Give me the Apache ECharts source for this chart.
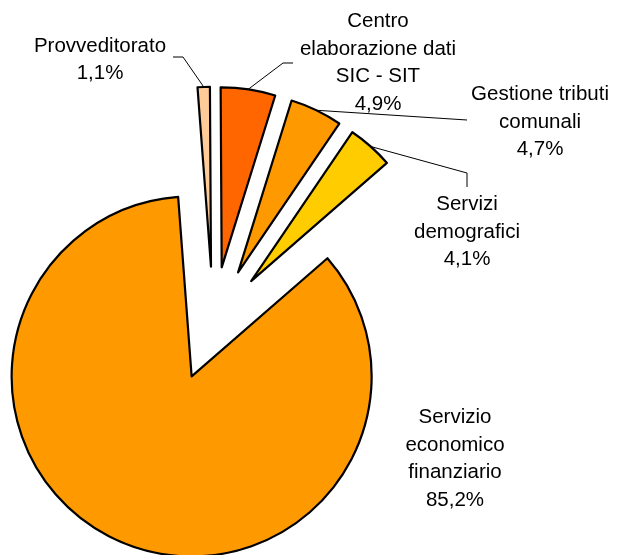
<!DOCTYPE html>
<html>
<head>
<meta charset="utf-8">
<script src="https://cdn.jsdelivr.net/npm/echarts@6/dist/echarts.min.js"></script>
<style>
  html, body { margin: 0; padding: 0; background: #fff; }
  #chart { width: 617px; height: 555px; }
</style>
</head>
<body>
<div id="chart"></div>
<script>
// ---- data ----
const categories = [
  'Provveditorato',
  'Centro\nelaborazione dati\nSIC - SIT',
  'Gestione tributi\ncomunali',
  'Servizi\ndemografici',
  'Servizio\neconomico\nfinanziario'
];
const values = [1.1, 4.9, 4.7, 4.1, 85.2];
const colors = ['#FFCC99', '#FF6600', '#FF9900', '#FFCC00', '#FF9900'];

// ---- layout (not data) ----
const CENTER = [213.3, 323.7];
const RADIUS = 180;
const EXPLODE = 57;
const START = 94.3;
const labelCenters = [[100, 60], [378, 63], [540, 122], [467, 232], [455, 459]];
const leaderBends = [
  [[183, 57], [173, 57]],
  [[283, 63], [293, 63]],
  [[467, 120], [467, 120]],
  [[467, 173], [467, 187]],
  null
];

const fmt = v => v.toFixed(1).replace('.', ',') + '%';

const chart = echarts.init(document.getElementById('chart'), null, { renderer: 'canvas' });
chart.setOption({
  backgroundColor: '#ffffff',
  animation: false,
  series: [{
    // exploded slices
    type: 'pie',
    center: CENTER,
    radius: RADIUS,
    startAngle: START,
    clockwise: true,
    selectedMode: 'multiple',
    selectedOffset: EXPLODE,
    avoidLabelOverlap: false,
    emphasis: { disabled: true },
    itemStyle: { borderColor: '#000', borderWidth: 2.2 },
    label: { show: false },
    labelLine: { show: false },
    data: categories.map((c, i) => ({
      name: c, value: values[i], selected: true, itemStyle: { color: colors[i] }
    }))
  }, {
    // labels and leader lines
    type: 'pie',
    center: CENTER,
    radius: RADIUS,
    startAngle: START,
    clockwise: true,
    selectedMode: false,
    silent: true,
    avoidLabelOverlap: false,
    emphasis: { disabled: true },
    itemStyle: { color: 'rgba(0,0,0,0)', borderWidth: 0 },
    label: {
      show: true,
      position: 'outside',
      color: '#000',
      fontFamily: 'Liberation Sans, Arial, sans-serif',
      fontSize: 20.5,
      lineHeight: 27.5,
      align: 'center',
      formatter: p => categories[p.dataIndex] + '\n' + fmt(values[p.dataIndex])
    },
    labelLine: { show: true, length: 10, length2: 10, lineStyle: { color: '#000', width: 1 } },
    labelLayout: function (params) {
      const i = params.dataIndex;
      const out = { x: labelCenters[i][0], y: labelCenters[i][1], align: 'center', verticalAlign: 'middle' };
      if (leaderBends[i] && params.labelLinePoints) {
        const p0 = params.labelLinePoints[0];
        const dx = p0[0] - CENTER[0], dy = p0[1] - CENTER[1];
        const d = Math.sqrt(dx * dx + dy * dy) || 1;
        const start = [p0[0] + dx / d * EXPLODE, p0[1] + dy / d * EXPLODE];
        out.labelLinePoints = [start, leaderBends[i][0], leaderBends[i][1]];
      }
      return out;
    },
    data: categories.map((c, i) => ({
      name: c,
      value: values[i],
      labelLine: { show: leaderBends[i] !== null }
    }))
  }]
});
</script>
</body>
</html>
